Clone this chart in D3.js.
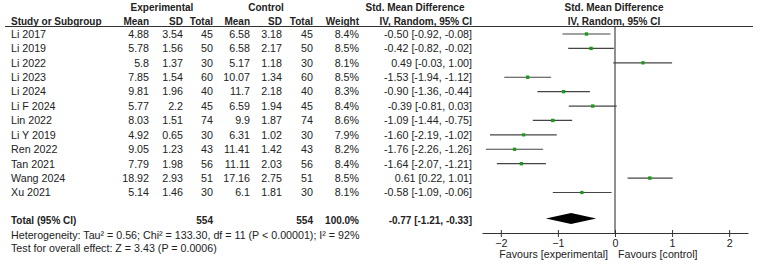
<!DOCTYPE html>
<html>
<head>
<meta charset="utf-8">
<script src="https://cdn.jsdelivr.net/npm/d3@7"></script>
<style>
  body { margin: 0; background: #fff; }
  text { font-family: "Liberation Sans", Arial, sans-serif; fill: #222; }
</style>
</head>
<body>
<svg id="chart"></svg>
<script>
const studies = ["Li 2017", "Li 2019", "Li 2022", "Li 2023", "Li 2024", "Li F 2024", "Lin 2022", "Li Y 2019", "Ren 2022", "Tan 2021", "Wang 2024", "Xu 2021"];
const expMean = [4.88, 5.78, 5.8, 7.85, 9.81, 5.77, 8.03, 4.92, 9.05, 7.79, 18.92, 5.14];
const expSD = [3.54, 1.56, 1.37, 1.54, 1.96, 2.2, 1.51, 0.65, 1.23, 1.98, 2.93, 1.46];
const expN = [45, 50, 30, 60, 40, 45, 74, 30, 43, 56, 51, 30];
const ctlMean = [6.58, 6.58, 5.17, 10.07, 11.7, 6.59, 9.9, 6.31, 11.41, 11.11, 17.16, 6.1];
const ctlSD = [3.18, 2.17, 1.18, 1.34, 2.18, 1.94, 1.87, 1.02, 1.42, 2.03, 2.75, 1.81];
const ctlN = [45, 50, 30, 60, 40, 45, 74, 30, 43, 56, 51, 30];
const weights = [8.4, 8.5, 8.1, 8.5, 8.3, 8.4, 8.6, 7.9, 8.2, 8.4, 8.5, 8.1];
const smd = [-0.50, -0.42, 0.49, -1.53, -0.90, -0.39, -1.09, -1.60, -1.76, -1.64, 0.61, -0.58];
const ciLow = [-0.92, -0.82, -0.03, -1.94, -1.36, -0.81, -1.44, -2.19, -2.26, -2.07, 0.22, -1.09];
const ciHigh = [-0.08, -0.02, 1.00, -1.12, -0.44, 0.03, -0.75, -1.02, -1.26, -1.21, 1.01, -0.06];
const totalExpN = 554, totalCtlN = 554, totalWeight = 100.0;
const totalEffect = [-0.77, -1.21, -0.33];
const axisTicks = [-2, -1, 0, 1, 2];
const heterogeneity = "Heterogeneity: Tau² = 0.56; Chi² = 133.30, df = 11 (P < 0.00001); I² = 92%";
const overallTest = "Test for overall effect: Z = 3.43 (P = 0.0006)";

const width = 760, height = 266;
const svg = d3.select("#chart").attr("width", width).attr("height", height);

const x = d3.scaleLinear().domain([-2.33, 2.33]).range([482, 748]);
const y = d3.scalePoint().domain(studies).range([34, 192.5]);
const yTotal = 220, yAxis = 233;

const fs = "10.7px", fsBold = "10px";

function txt(xp, yp, s, anchor = "start", bold = false) {
    return svg.append("text")
        .attr("x", xp).attr("y", yp).attr("dy", "0.36em")
        .attr("text-anchor", anchor)
        .attr("font-size", bold ? fsBold : fs)
        .attr("font-weight", bold ? "bold" : "normal")
        .text(s);
}

// header
txt(162, 7, "Experimental", "middle", true);
txt(266, 7, "Control", "middle", true);
txt(415, 7, "Std. Mean Difference", "middle", true);
txt(614, 7, "Std. Mean Difference", "middle", true);
txt(11, 21, "Study or Subgroup", "start", true);
[[149, "Mean"], [183, "SD"], [213, "Total"], [250, "Mean"], [282, "SD"], [313, "Total"], [359, "Weight"], [472, "IV, Random, 95% CI"]]
    .forEach(([xp, s]) => txt(xp, 21, s, "end", true));
txt(614, 21, "IV, Random, 95% CI", "middle", true);

svg.append("line")
    .attr("x1", 5).attr("x2", 753).attr("y1", 26.5).attr("y2", 26.5)
    .attr("stroke", "#333").attr("stroke-width", 1);

// study rows
const cols = [
    [149, i => expMean[i]], [183, i => expSD[i]], [213, i => expN[i]],
    [250, i => ctlMean[i]], [282, i => ctlSD[i]], [313, i => ctlN[i]],
    [359, i => weights[i].toFixed(1) + "%"],
    [472, i => `${smd[i].toFixed(2)} [${ciLow[i].toFixed(2)}, ${ciHigh[i].toFixed(2)}]`]
];
studies.forEach((s, i) => {
    txt(11, y(s), s);
    cols.forEach(([xp, f]) => txt(xp, y(s), f(i), "end"));
});

// total row
txt(11, yTotal, "Total (95% CI)", "start", true);
txt(213, yTotal, totalExpN, "end", true);
txt(313, yTotal, totalCtlN, "end", true);
txt(359, yTotal, totalWeight.toFixed(1) + "%", "end", true);
txt(472, yTotal, `${totalEffect[0].toFixed(2)} [${totalEffect[1].toFixed(2)}, ${totalEffect[2].toFixed(2)}]`, "end", true);
txt(11, 235, heterogeneity);
txt(11, 248, overallTest);

// zero line
svg.append("line")
    .attr("x1", x(0)).attr("x2", x(0)).attr("y1", 27).attr("y2", yAxis)
    .attr("stroke", "#222").attr("stroke-width", 1);

// CIs and squares
const plot = svg.append("g");
plot.selectAll("line.ci")
    .data(studies)
    .join("line")
    .attr("class", "ci")
    .attr("x1", (d, i) => x(ciLow[i])).attr("x2", (d, i) => x(ciHigh[i]))
    .attr("y1", d => y(d)).attr("y2", d => y(d))
    .attr("stroke", "#444").attr("stroke-width", 1.2);

plot.selectAll("rect.pt")
    .data(studies)
    .join("rect")
    .attr("class", "pt")
    .each(function (d, i) {
        const sz = weights[i] * 0.4;
        d3.select(this)
            .attr("x", x(smd[i]) - sz / 2).attr("y", y(d) - sz / 2)
            .attr("width", sz).attr("height", sz);
    })
    .attr("fill", "#1a9a1a");

// diamond
const dh = 5.5;
svg.append("path")
    .attr("d", `M${x(totalEffect[1])},${yTotal - 1.5} L${x(totalEffect[0])},${yTotal - 1.5 - dh} L${x(totalEffect[2])},${yTotal - 1.5} L${x(totalEffect[0])},${yTotal - 1.5 + dh} Z`)
    .attr("fill", "#000");

// axis
const ax = svg.append("g").attr("transform", `translate(0,${yAxis})`)
    .call(d3.axisBottom(x).tickValues(axisTicks).tickSize(4).tickSizeOuter(0).tickFormat(d3.format("d")));
ax.select(".domain").attr("stroke", "#333");
ax.selectAll(".tick line").attr("y1", -3).attr("y2", 4).attr("stroke", "#333");
ax.selectAll(".tick text").attr("y", 6).attr("font-size", fs).attr("font-family", "Liberation Sans, Arial, sans-serif").attr("fill", "#222");

txt(x(0) - 7, 254, "Favours [experimental]", "end");
txt(x(0) + 3, 254, "Favours [control]", "start");
</script>
</body>
</html>
